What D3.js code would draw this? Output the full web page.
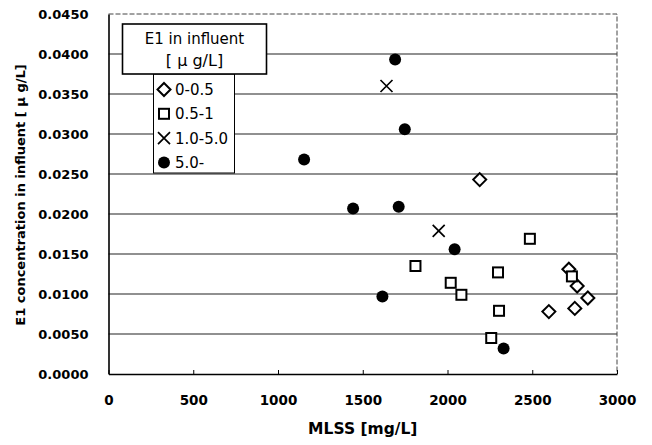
<!DOCTYPE html>
<html>
<head>
<meta charset="utf-8">
<script src="https://cdn.jsdelivr.net/npm/d3@7"></script>
<style>
  body { margin: 0; background: #fff; }
  text { font-family: "DejaVu Sans", sans-serif; fill: #000; }
</style>
</head>
<body>
<div id="chart"></div>
<script>
// *Data: [MLSS mg/L, E1 ug/L]
const xTicks = [0, 500, 1000, 1500, 2000, 2500, 3000];
const yTicks = [0, 0.005, 0.01, 0.015, 0.02, 0.025, 0.03, 0.035, 0.04, 0.045];
const groupLabels = ["0-0.5", "0.5-1", "1.0-5.0", "5.0-"];

const group1 = [
  [2190, 0.0243], [2716, 0.0131], [2765, 0.011], [2828, 0.0095],
  [2598, 0.0078], [2751, 0.0082],
];
const group2 = [
  [2486, 0.0169], [1811, 0.0135], [2298, 0.0127], [2734, 0.0122],
  [2019, 0.0114], [2082, 0.0099], [2304, 0.0079], [2258, 0.0045],
];
const group3 = [
  [1640, 0.036], [1948, 0.0179],
];
const group4 = [
  [1691, 0.0393], [1748, 0.0306], [1154, 0.0268], [1443, 0.0207],
  [1712, 0.0209], [2042, 0.0156], [1616, 0.0097], [2331, 0.0032],
];

// *Set dimensions and margins for chart
let margin = { top: 14, right: 35, bottom: 71, left: 108.5 },
  width = 652 - margin.left - margin.right,
  height = 445 - margin.top - margin.bottom;

let svgRoot = d3
  .select("#chart")
  .append("svg")
  .attr("width", 652)
  .attr("height", 445);

let svg = svgRoot
  .append("g")
  .attr("transform", "translate(" + margin.left + "," + margin.top + ")");

let x = d3.scaleLinear().domain([0, 3000]).range([0, width]);
let y = d3.scaleLinear().domain([0, 0.045]).range([height, 0]);

// *Gridlines
svg
  .selectAll(".grid")
  .data(yTicks.slice(1, -1))
  .enter()
  .append("line")
  .attr("x1", 0)
  .attr("x2", width)
  .attr("y1", (d) => y(d))
  .attr("y2", (d) => y(d))
  .attr("stroke", "#222")
  .attr("stroke-width", 1.2);

// *Top and right frame (light dashed)
svg
  .append("path")
  .attr("d", "M0," + y(0.045) + "H" + x(3000) + "V" + y(0))
  .attr("fill", "none")
  .attr("stroke", "#444")
  .attr("stroke-width", 1)
  .attr("stroke-dasharray", "5,2");

// *X axis
let xAxis = svg
  .append("g")
  .attr("transform", "translate(0," + height + ")")
  .call(
    d3.axisBottom(x)
      .tickValues(xTicks)
      .tickSizeInner(-4)
      .tickSizeOuter(0)
      .tickPadding(21)
      .tickFormat(d3.format("d"))
  );
xAxis.select(".domain").attr("stroke", "#000").attr("stroke-width", 1.6);
xAxis.selectAll("line").attr("stroke", "#000");
xAxis
  .selectAll("text")
  .attr("font-size", "13.5px")
  .attr("font-weight", "bold")
  .attr("font-family", "Liberation Sans, Arial, sans-serif");

// *Y axis
let yAxis = svg
  .append("g")
  .call(d3.axisLeft(y).tickValues(yTicks).tickSize(0).tickPadding(20).tickFormat(d3.format(".4f")));
yAxis.select(".domain").attr("stroke", "#000").attr("stroke-width", 1.6);
yAxis
  .selectAll("text")
  .attr("font-size", "13px")
  .attr("font-weight", "bold")
  .attr("font-family", "DejaVu Sans");

// *Axis titles
svg
  .append("text")
  .attr("x", width / 2)
  .attr("y", height + 60)
  .attr("text-anchor", "middle")
  .attr("font-size", "15.5px")
  .attr("font-weight", "bold")
  .text("MLSS [mg/L]");

svg
  .append("text")
  .attr("transform", "rotate(-90)")
  .attr("x", -(195 - margin.top))
  .attr("y", 25 - margin.left)
  .attr("text-anchor", "middle")
  .attr("font-size", "13px")
  .attr("font-weight", "bold")
  .text("E1 concentration in influent [ \u03bc g/L]");

// *Marker shapes
function drawMarker(g, type) {
  if (type === 0) {
    g.append("path")
      .attr("d", "M0,-6.5L6.5,0L0,6.5L-6.5,0Z")
      .attr("fill", "#fff")
      .attr("stroke", "#000")
      .attr("stroke-width", 2);
  } else if (type === 1) {
    g.append("rect")
      .attr("x", -5).attr("y", -5)
      .attr("width", 10).attr("height", 10)
      .attr("fill", "#fff")
      .attr("stroke", "#000")
      .attr("stroke-width", 2);
  } else if (type === 2) {
    g.append("path")
      .attr("d", "M-6,-6L6,6M-6,6L6,-6")
      .attr("stroke", "#000")
      .attr("stroke-width", 1.7);
  } else {
    g.append("circle").attr("r", 6).attr("fill", "#000");
  }
}

// *Adding points
[group1, group2, group3, group4].forEach(function (data, i) {
  svg
    .selectAll(".pt" + i)
    .data(data)
    .enter()
    .append("g")
    .attr("transform", (d) => "translate(" + x(d[0]) + "," + y(d[1]) + ")")
    .each(function () {
      drawMarker(d3.select(this), i);
    });
});

// *Legend
let legend = svgRoot.append("g");
legend
  .append("rect")
  .attr("x", 153.5).attr("y", 74)
  .attr("width", 81).attr("height", 99)
  .attr("fill", "#fff")
  .attr("stroke", "#000")
  .attr("stroke-width", 1);
legend
  .append("rect")
  .attr("x", 122.5).attr("y", 24)
  .attr("width", 144).attr("height", 50)
  .attr("fill", "#fff")
  .attr("stroke", "#000")
  .attr("stroke-width", 1.6);
legend
  .append("text")
  .attr("x", 194.5).attr("y", 44)
  .attr("text-anchor", "middle")
  .attr("font-size", "15px")
  .text("E1 in influent");
legend
  .append("text")
  .attr("x", 194.5).attr("y", 66)
  .attr("text-anchor", "middle")
  .attr("font-size", "16px")
  .text("[ \u03bc g/L]");

groupLabels.forEach(function (label, i) {
  let row = legend.append("g").attr("transform", "translate(164," + (89.5 + i * 24.3) + ")");
  drawMarker(row, i);
  row
    .append("text")
    .attr("x", 11)
    .attr("y", 5.5)
    .attr("font-size", "15px")
    .text(label);
});
</script>
</body>
</html>
